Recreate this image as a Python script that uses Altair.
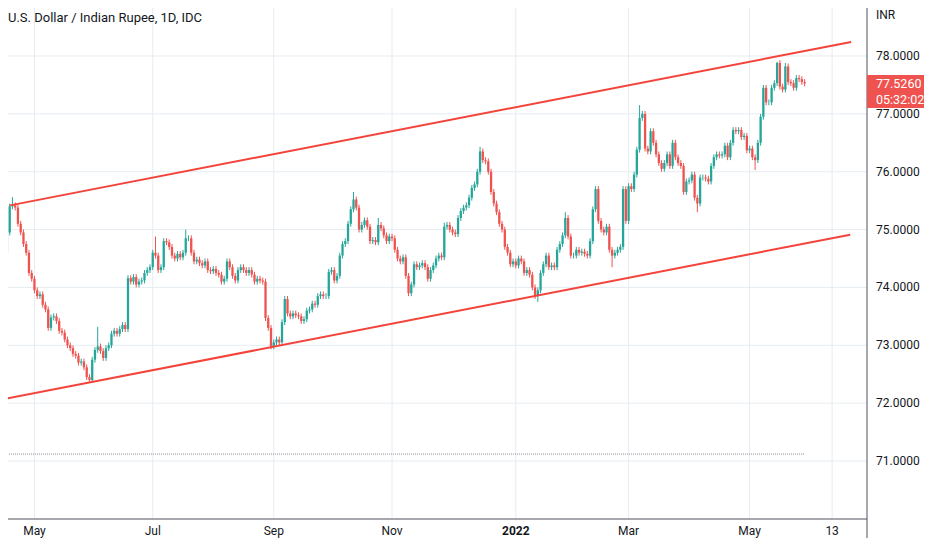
import altair as alt
import numpy as np
import pandas as pd

# ---------------- data ----------------
first_bar_date = "2021-04-19"          # first daily bar (weekday bars)
first_open = 74.60
closes = [
    74.95, 75.40, 75.42, 75.38, 75.10, 74.95, 74.75, 74.60, 74.25, 74.15,
    73.95, 73.85, 73.88, 73.70, 73.62, 73.30, 73.48, 73.50, 73.42, 73.25,
    73.22, 73.10, 73.00, 72.95, 72.85, 72.82, 72.70, 72.72, 72.62, 72.45,
    72.40, 72.75, 72.92, 72.98, 72.90, 72.78, 72.95, 73.00, 73.20, 73.25,
    73.20, 73.28, 73.35, 73.28, 74.16, 74.10, 74.18, 74.05, 74.10, 74.12,
    74.25, 74.30, 74.35, 74.60, 74.55, 74.30, 74.35, 74.80, 74.78, 74.70,
    74.55, 74.50, 74.58, 74.52, 74.60, 74.85, 74.85, 74.60, 74.45, 74.48,
    74.42, 74.38, 74.45, 74.30, 74.28, 74.32, 74.25, 74.22, 74.10, 74.15,
    74.45, 74.35, 74.20, 74.12, 74.30, 74.35, 74.30, 74.25, 74.30, 74.22,
    74.10, 74.15, 74.12, 74.10, 73.47, 73.30, 72.98, 73.05, 73.10, 73.05,
    73.40, 73.80, 73.55, 73.50, 73.55, 73.52, 73.50, 73.42, 73.45, 73.60,
    73.62, 73.72, 73.70, 73.85, 73.88, 73.85, 73.85, 74.27, 74.30, 74.12,
    74.20, 74.55, 74.75, 74.80, 75.10, 75.35, 75.52, 75.38, 75.00, 75.08,
    75.16, 75.05, 74.80, 74.82, 74.78, 75.08, 75.02, 74.90, 74.80, 74.88,
    74.85, 74.65, 74.50, 74.45, 74.52, 74.20, 73.90, 74.05, 74.40, 74.35,
    74.38, 74.42, 74.35, 74.15, 74.30, 74.38, 74.50, 74.55, 74.52, 75.05,
    75.08, 75.00, 74.95, 74.92, 75.20, 75.32, 75.38, 75.42, 75.55, 75.72,
    75.78, 76.00, 76.35, 76.20, 76.18, 76.00, 75.65, 75.45, 75.30, 75.10,
    75.00, 74.70, 74.60, 74.40, 74.45, 74.38, 74.50, 74.45, 74.25, 74.30,
    74.22, 74.00, 73.85, 73.95, 74.25, 74.40, 74.55, 74.35, 74.38, 74.35,
    74.65, 74.75, 74.90, 75.20, 74.88, 74.55, 74.55, 74.65, 74.60, 74.62,
    74.58, 74.55, 74.80, 75.35, 75.70, 75.15, 75.00, 74.95, 75.05, 74.65,
    74.55, 74.60, 74.65, 74.70, 75.70, 75.15, 75.75, 75.70, 75.95, 76.38,
    76.93, 77.00, 76.40, 76.35, 76.70, 76.50, 76.30, 76.15, 76.05, 76.15,
    76.30, 76.10, 76.50, 76.25, 76.15, 76.10, 75.65, 75.83, 75.85, 75.95,
    75.55, 75.45, 75.90, 75.90, 75.88, 75.83, 76.10, 76.25, 76.30, 76.28,
    76.30, 76.45, 76.25, 76.50, 76.72, 76.70, 76.72, 76.60, 76.62, 76.37,
    76.40, 76.25, 76.20, 76.50, 76.95, 77.45, 77.20, 77.20, 77.45, 77.53,
    77.88, 77.47, 77.42, 77.82, 77.55, 77.53, 77.45, 77.62, 77.60, 77.55,
    77.526,
]
# notable wick extremes (bar number counted from the first bar)
wick_highs = {2: 75.56, 33: 73.32, 54: 74.88, 65: 75.00, 126: 75.65, 135: 75.20,
              159: 75.12, 172: 76.43, 203: 75.30, 230: 77.15, 280: 77.90, 283: 77.88}
wick_lows = {30: 72.35, 96: 72.93, 146: 73.85, 193: 73.75, 220: 74.35,
             251: 75.30, 272: 76.03}
wick_pad = 0.05

tick_dates = ["2021-05-03", "2021-07-01", "2021-09-01", "2021-11-01",
              "2022-01-03", "2022-03-01", "2022-05-02", "2022-06-13"]
tick_labels = ["May", "Jul", "Sep", "Nov", "2022", "Mar", "May", "13"]
tick_bold = [False, False, False, False, True, False, False, False]

price_ticks = [71, 72, 73, 74, 75, 76, 77, 78]

# channel lines: (bar number, price) end points
upper_line = [(1.125, 75.418), (306.9, 78.242)]
lower_line = [(-0.67, 72.074), (306.56, 74.911)]
dotted_level = 71.12

title_text = "U.S. Dollar / Indian Rupee, 1D, IDC"
currency = "INR"
countdown = "05:32:02"

UP, DOWN = "#26a69a", "#ef5350"
LINE_RED = "#f4433a"
TXT = "#131722"
AXIS_LINE = "#50535e"
GRID = "#e6ecf2"

# ---------------- build tables ----------------
n = len(closes)
opens = [first_open] + closes[:-1]
dates = pd.bdate_range(first_bar_date, periods=n)
highs, lows = [], []
for i in range(n):
    top = max(opens[i], closes[i])
    bot = min(opens[i], closes[i])
    highs.append(wick_highs.get(i, top + wick_pad))
    lows.append(wick_lows.get(i, bot - wick_pad))
df = pd.DataFrame({
    "bar": np.arange(n),
    "date": dates.strftime("%Y-%m-%d"),
    "open": opens, "close": closes, "high": highs, "low": lows,
})
df["dir"] = np.where(df["close"] >= df["open"], "up", "down")

tick_pos = [int(np.busday_count(first_bar_date, d)) for d in tick_dates]
xticks_df = pd.DataFrame({"bar": tick_pos, "label": tick_labels, "bold": tick_bold})
yticks_df = pd.DataFrame({"price": price_ticks,
                          "label": [f"{p:.4f}" for p in price_ticks]})

lines_df = pd.DataFrame(
    [{"line": "upper", "bar": b, "price": p} for b, p in upper_line]
    + [{"line": "lower", "bar": b, "price": p} for b, p in lower_line]
)

W, H = 859, 511
SVG_W, SVG_H = 916, 530
x_scale = alt.Scale(domain=[2.2, 310.86], nice=False, zero=False)
y_scale = alt.Scale(domain=[69.9975, 78.8296], nice=False, zero=False)
color_scale = alt.Scale(domain=["up", "down"], range=[UP, DOWN])

X = lambda f: alt.X(f, scale=x_scale, axis=None)
Y = lambda f: alt.Y(f, scale=y_scale, axis=None)

# grid
vgrid = alt.Chart(xticks_df).mark_rule(color=GRID, strokeWidth=1).encode(
    x=X("bar:Q"), y=alt.value(0), y2=alt.value(H))
hgrid = alt.Chart(yticks_df).mark_rule(color=GRID, strokeWidth=1).encode(
    y=Y("price:Q"), x=alt.value(0), x2=alt.value(W))

base = alt.Chart(df)
wicks = base.mark_rule(strokeWidth=1, clip=True).encode(
    x=X("bar:Q"), y=Y("low:Q"), y2="high:Q",
    color=alt.Color("dir:N", scale=color_scale, legend=None),
)
bodies = base.mark_bar(size=2.3, clip=True).encode(
    x=X("bar:Q"), y=Y("open:Q"), y2="close:Q",
    color=alt.Color("dir:N", scale=color_scale, legend=None),
)
channel = alt.Chart(lines_df).mark_line(color=LINE_RED, strokeWidth=2, clip=True).encode(
    x=X("bar:Q"), y=Y("price:Q"), detail="line:N",
)
dotted = alt.Chart(pd.DataFrame({"a": [0], "b": [n - 1], "p": [dotted_level]})).mark_rule(
    color="#8a8d96", strokeDash=[1, 1], strokeWidth=1, clip=True
).encode(x=X("a:Q"), x2="b:Q", y=Y("p:Q"))

# axis lines and labels
one = pd.DataFrame({"k": [0]})
bottom_line = alt.Chart(one).mark_rule(color=AXIS_LINE, strokeWidth=1).encode(
    x=alt.value(0), x2=alt.value(W), y=alt.value(H))
right_line = alt.Chart(one).mark_rule(color=AXIS_LINE, strokeWidth=1).encode(
    x=alt.value(W), y=alt.value(0), y2=alt.value(SVG_H))
xlabels_normal = alt.Chart(xticks_df[~xticks_df["bold"]]).mark_text(
    align="center", baseline="middle", fontSize=12, color=TXT
).encode(x=X("bar:Q"), y=alt.value(H + 12), text="label:N")
xlabels_bold = alt.Chart(xticks_df[xticks_df["bold"]]).mark_text(
    align="center", baseline="middle", fontSize=12, color=TXT, fontWeight="bold"
).encode(x=X("bar:Q"), y=alt.value(H + 12), text="label:N")
ylabels = alt.Chart(yticks_df).mark_text(
    align="left", baseline="middle", fontSize=12, color=TXT
).encode(y=Y("price:Q"), x=alt.value(W + 9), text="label:N")

title = alt.Chart(one).mark_text(
    align="left", baseline="middle", fontSize=13, color=TXT
).encode(x=alt.value(0), y=alt.value(10), text=alt.value(title_text))
inr = alt.Chart(one).mark_text(
    align="left", baseline="middle", fontSize=12, color=TXT
).encode(x=alt.value(W + 9), y=alt.value(7), text=alt.value(currency))
box = alt.Chart(one).mark_rect(color=DOWN).encode(
    x=alt.value(W), x2=alt.value(SVG_W), y=alt.value(67), y2=alt.value(100))
last_df = pd.DataFrame({"v": [f"{closes[-1]:.4f}"], "c": [countdown]})
price_txt = alt.Chart(last_df).mark_text(
    align="left", baseline="middle", fontSize=12.5, color="white"
).encode(x=alt.value(W + 9), y=alt.value(75.5), text="v:N")
count_txt = alt.Chart(last_df).mark_text(
    align="left", baseline="middle", fontSize=12.5, color="white"
).encode(x=alt.value(W + 9), y=alt.value(92), text="c:N")

chart = alt.layer(
    vgrid, hgrid, wicks, bodies, channel, dotted, bottom_line, right_line,
    xlabels_normal, xlabels_bold, ylabels, title, inr, box, price_txt, count_txt
).properties(
    width=W, height=H,
    autosize=alt.AutoSizeParams(type="none"),
    padding={"left": 0, "top": 0, "right": SVG_W - W, "bottom": SVG_H - H},
    background="white",
).configure(font="Roboto").configure_view(strokeWidth=0)

chart.save("out.html", embed_options={"renderer": "svg", "actions": False})
